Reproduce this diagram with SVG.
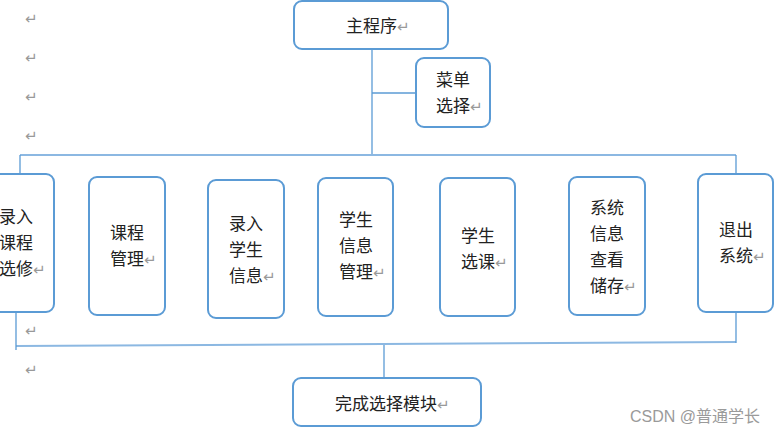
<svg xmlns="http://www.w3.org/2000/svg" width="782" height="436" viewBox="0 0 782 436">
<style>
.box{fill:#fff;stroke:#5b9bd5;stroke-width:2}
.t{font-family:"Noto Sans CJK SC","Liberation Sans",sans-serif;font-size:17px;fill:#222}
.pm{font-family:"DejaVu Sans",sans-serif;font-size:15px;fill:#999}
.ln{stroke:#5b9bd5;stroke-width:1.3;fill:none}
.bus{stroke:#8cb8e2;stroke-width:2;fill:none}
.wm{font-family:"Liberation Sans","Noto Sans CJK SC",sans-serif;font-size:16px;fill:#9a9a9a}
</style>
<rect width="782" height="436" fill="#fff"/>
<g id="marks">
<text class="pm" x="25" y="24">↵</text>
<text class="pm" x="25" y="63">↵</text>
<text class="pm" x="25" y="102">↵</text>
<text class="pm" x="25" y="141">↵</text>
<text class="pm" x="25" y="336">↵</text>
<text class="pm" x="25" y="375">↵</text>
</g>
<g id="connectors">
<path class="ln" d="M372 49 V155"/>
<path class="ln" d="M372 93 H416"/>
<path class="bus" d="M20 155 H736"/>
<path class="ln" d="M20 155 V176 M736 155 V175"/>
<path class="bus" d="M16 346 L736 342"/>
<path class="ln" d="M16 312 V350 M736 312 V343"/>
<path class="ln" d="M384 345 V378"/>
</g>
<g id="main"><rect class="box" x="294" y="1" width="154" height="48" rx="8"/><text class="t" x="346" y="32">主程序<tspan class="pm">↵</tspan></text></g>
<g id="menu"><rect class="box" x="416" y="58" width="74" height="69" rx="8"/><text class="t" x="436" y="86">菜单</text><text class="t" x="436" y="112">选择<tspan class="pm">↵</tspan></text></g>
<g id="n1"><rect class="box" x="-20" y="174" width="74" height="138" rx="8"/><text class="t" x="-1" y="223">录入</text><text class="t" x="-1" y="249">课程</text><text class="t" x="-1" y="275">选修<tspan class="pm">↵</tspan></text></g>
<g id="n2"><rect class="box" x="89" y="177" width="76" height="138" rx="8"/><text class="t" x="110" y="239">课程</text><text class="t" x="110" y="265">管理<tspan class="pm">↵</tspan></text></g>
<g id="n3"><rect class="box" x="208" y="180" width="76" height="138" rx="8"/><text class="t" x="229" y="230">录入</text><text class="t" x="229" y="256">学生</text><text class="t" x="229" y="282">信息<tspan class="pm">↵</tspan></text></g>
<g id="n4"><rect class="box" x="318" y="178" width="75" height="138" rx="8"/><text class="t" x="339" y="226">学生</text><text class="t" x="339" y="252">信息</text><text class="t" x="339" y="278">管理<tspan class="pm">↵</tspan></text></g>
<g id="n5"><rect class="box" x="440" y="178" width="75" height="138" rx="8"/><text class="t" x="461" y="242">学生</text><text class="t" x="461" y="268">选课<tspan class="pm">↵</tspan></text></g>
<g id="n6"><rect class="box" x="569" y="177" width="76" height="138" rx="8"/><text class="t" x="590" y="214">系统</text><text class="t" x="590" y="240">信息</text><text class="t" x="590" y="266">查看</text><text class="t" x="590" y="292">储存<tspan class="pm">↵</tspan></text></g>
<g id="n7"><rect class="box" x="698" y="174" width="75" height="138" rx="8"/><text class="t" x="719" y="236">退出</text><text class="t" x="719" y="262">系统<tspan class="pm">↵</tspan></text></g>
<g id="done"><rect class="box" x="293" y="378" width="188" height="48" rx="8"/><text class="t" x="335" y="410">完成选择模块<tspan class="pm">↵</tspan></text></g>
<text class="wm" x="630" y="422">CSDN @普通学长</text>
</svg>
